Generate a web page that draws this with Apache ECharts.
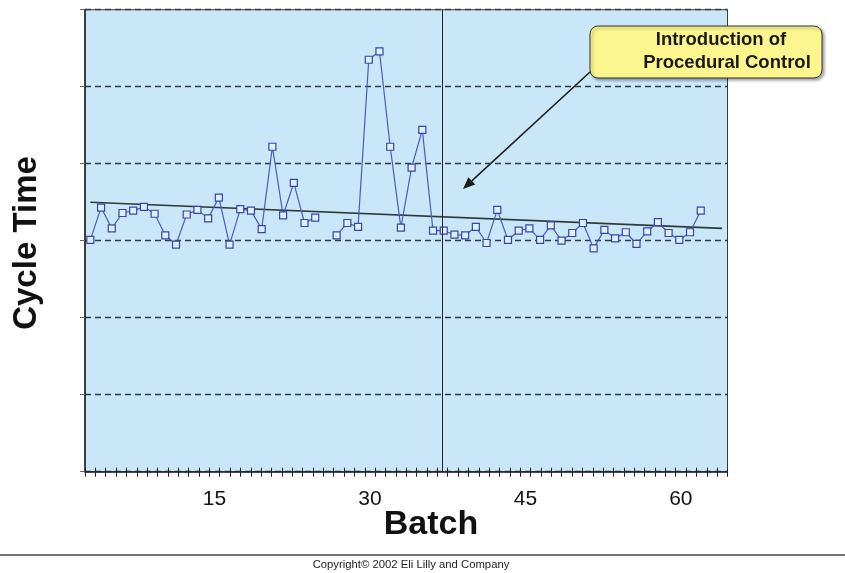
<!DOCTYPE html>
<html>
<head>
<meta charset="utf-8">
<script src="https://cdn.jsdelivr.net/npm/echarts@6/dist/echarts.min.js"></script>
<style>
html,body{margin:0;padding:0;background:#fff;}
#chart{width:845px;height:573px;}
</style>
</head>
<body>
<div id="chart"></div>
<script>
// Axis categories drawn on the visible batch axis
const axisBatches = ['3','4','5','6','7','8','9','10','11','12','13','14','15','16','17','18','19','20','21','22','23','24','25','26','27','28','29','30','31','32','33','34','35','36','37','38','39','40','41','42','43','44','45','46','47','48','49','50','51','52','53','54','55','56','57','58','59','60','61','62','63','64'];
const tickLabels = ['15','30','45','60'];

// Measured batches (plotted positions) and cycle time values
const batches = [1,2,3,4,5,6,7,8,9,10,11,12,13,14,15,16,17,18,19,20,21,22,23,24,25,26,27,28,29,30,31,32,33,34,35,36,37,38,39,40,41,42,43,44,45,46,47,48,49,50,51,52,53,54,55,56,57,58];
const cycleTime = [3.01,3.43,3.16,3.36,3.39,3.44,3.35,3.07,2.95,3.34,3.40,3.29,3.56,2.95,3.41,3.39,3.15,4.22,3.33,3.75,3.23,3.30,null,3.07,3.23,3.18,5.35,5.46,4.22,3.17,3.95,4.44,3.13,3.13,3.08,3.07,3.18,2.97,3.40,3.01,3.13,3.16,3.01,3.20,3.00,3.10,3.23,2.90,3.14,3.03,3.11,2.96,3.12,3.24,3.10,3.01,3.11,3.39];

// Linear trend line end points
const trendBatch = [1, 60];
const trendValue = [3.50, 3.16];

// Introduction of procedural control (batch position)
const controlStartBatch = 33.85;

const FONT = '"Liberation Sans", Arial, sans-serif';

const chart = echarts.init(document.getElementById('chart'), null, {renderer:'canvas'});

const option = {
  backgroundColor: '#ffffff',
  animation: false,
  grid: {
    left: 85, right: 117.5, top: 9.7, bottom: 101.3,
    show: true,
    backgroundColor: '#cae7fa',
    borderColor: '#3a3a3a',
    borderWidth: 1
  },
  xAxis: [
    {
      type: 'category',
      data: axisBatches,
      boundaryGap: true,
      position: 'bottom',
      axisLine: {show: true, lineStyle: {color: '#222', width: 1.5}},
      axisTick: {show: true, interval: 0, length: 5, lineStyle: {color: '#222', width: 1}},
      axisLabel: {
        show: true,
        interval: function (idx, val) { return tickLabels.indexOf(val) >= 0; },
        margin: 17,
        fontSize: 21,
        fontFamily: FONT,
        color: '#111'
      },
      splitLine: {show: false}
    },
    {
      type: 'category',
      data: axisBatches,
      boundaryGap: true,
      position: 'bottom',
      axisLine: {show: false},
      axisTick: {show: true, inside: true, interval: 0, length: 4, lineStyle: {color: '#222', width: 1}},
      axisLabel: {show: false},
      splitLine: {show: false}
    },
    {
      type: 'value',
      min: 0.5,
      max: 60.5,
      position: 'bottom',
      show: false,
      splitLine: {show: false}
    }
  ],
  yAxis: {
    type: 'value',
    min: 0,
    max: 6,
    interval: 1,
    axisLine: {show: true, lineStyle: {color: '#222', width: 1.5}},
    axisTick: {show: true, length: 5, lineStyle: {color: '#666', width: 1}},
    axisLabel: {show: false},
    splitLine: {show: true, lineStyle: {color: '#2f3a44', width: 1.3, type: [6, 4]}}
  },
  series: [
    {
      name: 'Trend',
      type: 'line',
      xAxisIndex: 2,
      data: trendBatch.map((b, i) => [b, trendValue[i]]),
      symbol: 'none',
      lineStyle: {color: '#2d3a35', width: 1.6},
      z: 3,
      markLine: {
        silent: true,
        symbol: ['none', 'none'],
        label: {show: false},
        lineStyle: {color: '#222', width: 1, type: 'solid'},
        data: [{xAxis: controlStartBatch}]
      }
    },
    {
      name: 'Cycle Time',
      type: 'line',
      xAxisIndex: 2,
      data: batches.map((b, i) => [b, cycleTime[i]]),
      connectNulls: false,
      symbol: 'rect',
      symbolSize: 7,
      showAllSymbol: true,
      lineStyle: {color: '#4a5ac4', width: 1.2},
      itemStyle: {color: '#dff0fc', borderColor: '#3545ad', borderWidth: 1.2},
      z: 4
    }
  ],
  graphic: [
    {
      type: 'text', x: 27, y: 243, rotation: Math.PI / 2,
      style: {text: 'Cycle Time', font: 'bold 33px ' + FONT, fill: '#111',
        align: 'center', verticalAlign: 'middle', textAlign: 'center', textVerticalAlign: 'middle'}
    },
    {
      type: 'text', x: 431, y: 525,
      style: {text: 'Batch', font: 'bold 34px ' + FONT, fill: '#111',
        align: 'center', verticalAlign: 'middle', textAlign: 'center', textVerticalAlign: 'middle'}
    },
    {
      type: 'line', shape: {x1: 590, y1: 72, x2: 471.8, y2: 180.9},
      style: {stroke: '#1a1a1a', lineWidth: 1.5}
    },
    {
      type: 'polygon', shape: {points: [[463, 189], [475.2, 184.6], [468.4, 177.2]]},
      style: {fill: '#1a1a1a'}
    },
    {
      type: 'rect', shape: {x: 590, y: 26, width: 232, height: 52, r: 8},
      style: {fill: '#fdf68f', stroke: '#333', lineWidth: 1,
        shadowBlur: 3, shadowColor: 'rgba(0,0,0,0.35)', shadowOffsetX: 2, shadowOffsetY: 2}
    },
    {
      type: 'text', x: 721, y: 40,
      style: {text: 'Introduction of', font: 'bold 18.5px ' + FONT, fill: '#1a1a1a',
        align: 'center', verticalAlign: 'middle', textAlign: 'center', textVerticalAlign: 'middle'}
    },
    {
      type: 'text', x: 727, y: 63,
      style: {text: 'Procedural Control', font: 'bold 18.5px ' + FONT, fill: '#1a1a1a',
        align: 'center', verticalAlign: 'middle', textAlign: 'center', textVerticalAlign: 'middle'}
    },
    {
      type: 'line', shape: {x1: 0, y1: 555, x2: 845, y2: 555},
      style: {stroke: '#444', lineWidth: 1.5}
    },
    {
      type: 'text', x: 411, y: 565,
      style: {text: 'Copyright© 2002 Eli Lilly and Company', font: '11.3px ' + FONT, fill: '#222',
        align: 'center', verticalAlign: 'middle', textAlign: 'center', textVerticalAlign: 'middle'}
    }
  ]
};

chart.setOption(option);
</script>
</body>
</html>
